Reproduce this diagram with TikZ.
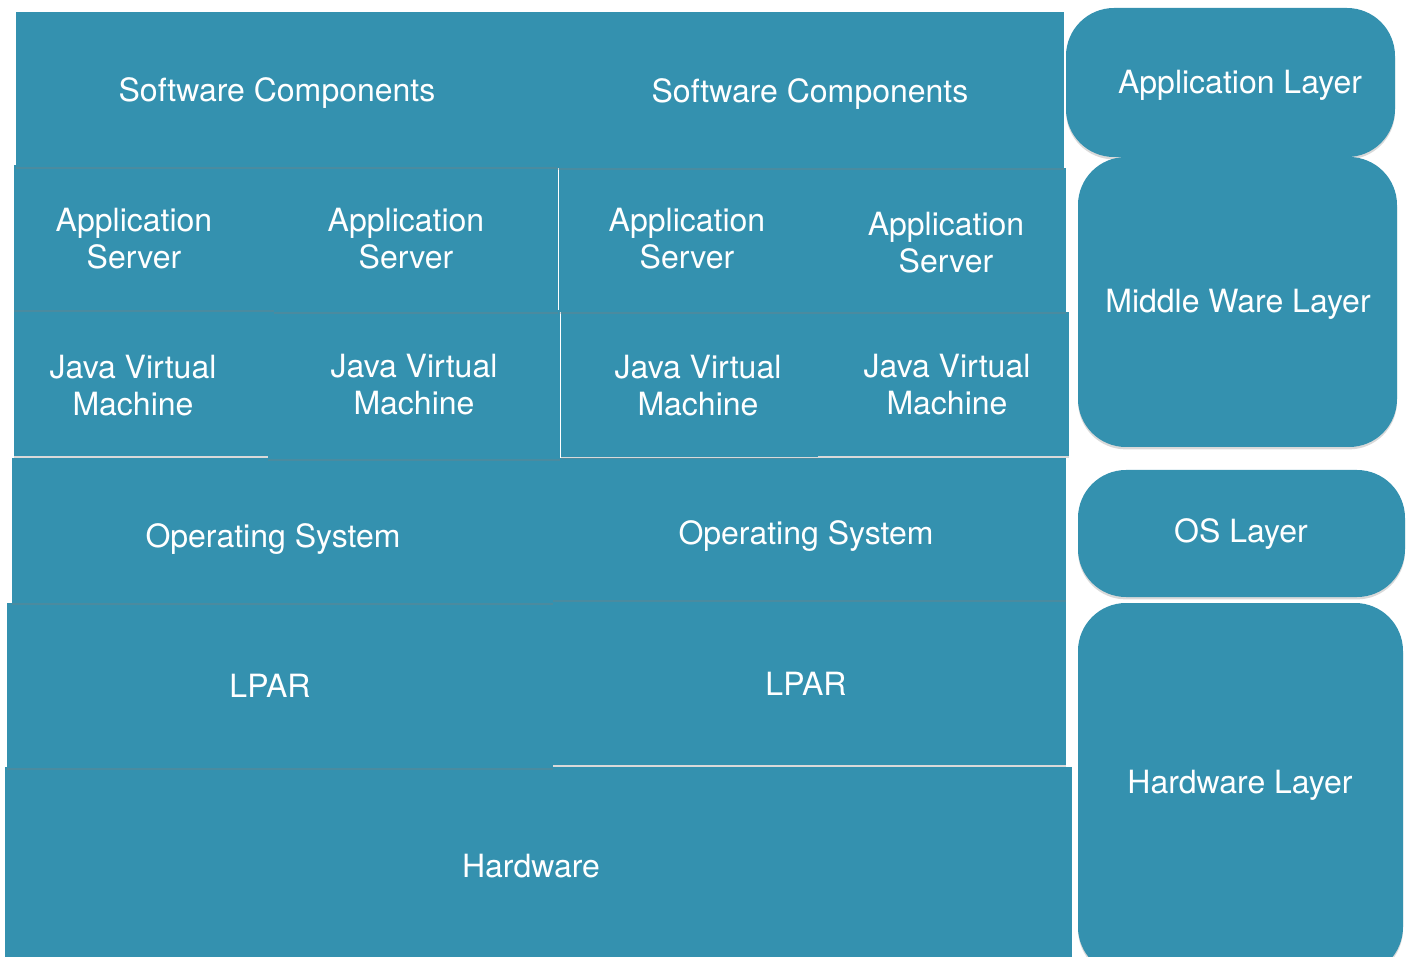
\documentclass[tikz,border=0pt]{standalone}
\usepackage{fontspec}
\setmainfont{TeX Gyre Heros}
\usetikzlibrary{shadows}
\definecolor{layerteal}{RGB}{52,145,175}
\tikzset{
  layerbox/.style={fill=layerteal,
    drop shadow={shadow xshift=0pt,shadow yshift=-1.2pt,opacity=0.3}},
  tierbox/.style={layerbox,rounded corners=24pt},
  layertext/.style={text=white,align=center,inner sep=0pt,
    font=\fontsize{16}{18.5}\selectfont}
}
\begin{document}
\begin{tikzpicture}[x=0.5pt,y=-0.5pt]
        \useasboundingbox (0,0) rectangle (1410,957);
        % stack, bottom up
        \fill[layerbox] (5,767) rectangle (1072,960);
        \node[layertext] (hardware) at (531,866.5) {Hardware};
        \fill[layerbox] (7,603) rectangle (553,768);
        \node[layertext] (lparA) at (270,686) {LPAR};
        \fill[layerbox] (553,600) rectangle (1066,765);
        \node[layertext] (lparB) at (806,684) {LPAR};
        \fill[layerbox] (12,458) rectangle (553,603);
        \node[layertext] (osA) at (273,539.5) {Operating System};
        \fill[layerbox] (553,458) rectangle (1066,600);
        \node[layertext] (osB) at (806,536.5) {Operating System};

        \fill[layerbox] (14,310) rectangle (268,456);
        \node[layertext] (jvmA) at (133,386) {Java Virtual\\Machine};
        \fill[layerbox] (268,310) rectangle (560,459);
        \node[layertext] (jvmB) at (414,385) {Java Virtual\\Machine};
        \fill[layerbox] (561,312) rectangle (818,457);
        \node[layertext] (jvmC) at (698,385.5) {Java Virtual\\Machine};
        \fill[layerbox] (818,312) rectangle (1069,456);
        \node[layertext] (jvmD) at (947,384.5) {Java Virtual\\Machine};

        \fill[layerbox] (14,165) rectangle (274,310);
        \node[layertext] (appsrvA) at (134,238.5) {Application\\Server};
        \fill[layerbox] (274,164) rectangle (558,312);
        \node[layertext] (appsrvB) at (406,239) {Application\\Server};
        \fill[layerbox] (559,168) rectangle (815,312);
        \node[layertext] (appsrvC) at (687,239) {Application\\Server};
        \fill[layerbox] (815,168) rectangle (1066,312);
        \node[layertext] (appsrvD) at (946,242.5) {Application\\Server};

        \fill[layerbox] (16,12) rectangle (557,167);
        \node[layertext] (softA) at (277,93.5) {Software Components};
        \fill[layerbox] (557,12) rectangle (1064,168);
        \node[layertext] (softB) at (810,94.5) {Software Components};

        % layer names
        \fill[tierbox] (1066,8) rectangle (1395,157);
        \node[layertext] (appLayer) at (1240,85.5) {Application Layer};
        \fill[tierbox] (1078,157) rectangle (1397,447);
        \node[layertext] (midLayer) at (1238,304) {Middle Ware Layer};
        \fill[tierbox] (1078,470) rectangle (1405,597);
        \node[layertext] (osLayer) at (1241,534.5) {OS Layer};
        \fill[tierbox] (1078,603) rectangle (1403,975);
        \node[layertext] (hwLayer) at (1240,785) {Hardware Layer};
    \end{tikzpicture}
\end{document}
